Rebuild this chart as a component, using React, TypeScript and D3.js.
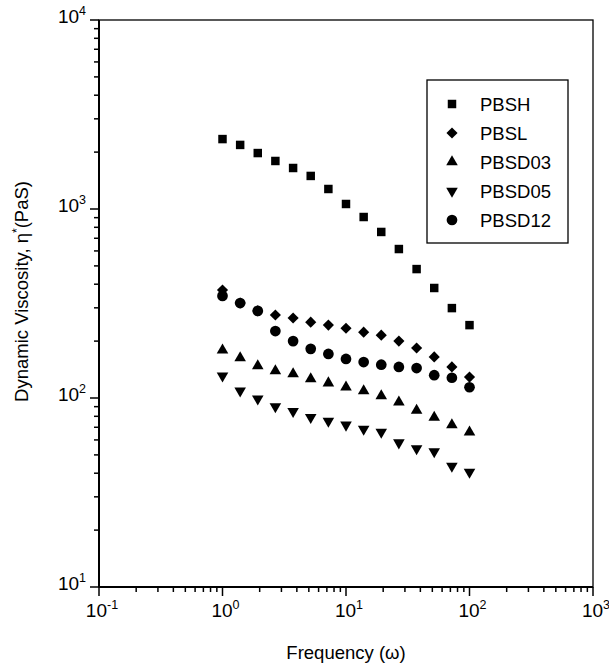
import React, { useRef, useEffect } from "react";
import * as d3 from "d3";

// frequency steps (7 per decade, 1 to 100)
const freq = [1, 1.39, 1.93, 2.68, 3.73, 5.18, 7.2, 10, 13.9, 19.3, 26.8, 37.3, 51.8, 72, 100];

// dynamic viscosity
const pbsh = [2344, 2183, 1977, 1795, 1648, 1496, 1276, 1063, 907, 756, 614, 481, 382, 299, 243];
const pbsl = [373, 318, 289, 275, 265, 252, 243, 234, 223, 215, 200, 184, 165, 146, 129];
const pbsd03 = [179, 163, 148, 139, 134, 126, 120, 114, 109, 102.5, 95, 86, 79, 72, 66];
const pbsd05 = [131, 109, 99, 90, 85, 79, 75.5, 72, 68.5, 66, 58, 54, 52, 43.6, 40.6];
const pbsd12 = [347, 318, 289, 226, 200, 182, 171, 161, 155, 150, 146, 144, 132, 128, 114];

const seriesNames = ["PBSH", "PBSL", "PBSD03", "PBSD05", "PBSD12"];
const xTickExp = [-1, 0, 1, 2, 3];
const yTickExp = [1, 2, 3, 4];

const App = () => {
    const ref = useRef(null);

    useEffect(() => {
        document.body.style.margin = "0";
        const width = 609;
        const height = 669;
        const margin = { top: 20, right: 16, bottom: 82, left: 99 };
        const font = "Arial, 'Liberation Sans', sans-serif";

        const svg = d3.select(ref.current)
            .attr("width", width)
            .attr("height", height);
        svg.selectAll("*").remove();

        const x = d3.scaleLog().domain([0.1, 1000]).range([margin.left, width - margin.right]);
        const y = d3.scaleLog().domain([10, 10000]).range([height - margin.bottom, margin.top]);

        const x0 = x.range()[0], x1 = x.range()[1];
        const y0 = y.range()[0], y1 = y.range()[1];

        // frame
        svg.append("rect")
            .attr("x", x0).attr("y", y1)
            .attr("width", x1 - x0).attr("height", y0 - y1)
            .attr("fill", "none").attr("stroke", "#000").attr("stroke-width", 1.3);
        // heavier left and bottom axes
        svg.append("line").attr("x1", x0).attr("x2", x0).attr("y1", y1).attr("y2", y0)
            .attr("stroke", "#000").attr("stroke-width", 2);
        svg.append("line").attr("x1", x0).attr("x2", x1).attr("y1", y0).attr("y2", y0)
            .attr("stroke", "#000").attr("stroke-width", 2);

        // ticks (outward)
        const minor = (lo, hi) => {
            const out = [];
            for (let e = lo; e < hi; e++) {
                for (let m = 2; m <= 9; m++) out.push(m * Math.pow(10, e));
            }
            return out;
        };
        const tg = svg.append("g").attr("stroke", "#000").attr("stroke-width", 1.5);
        xTickExp.forEach(e => {
            const v = Math.pow(10, e);
            tg.append("line").attr("x1", x(v)).attr("x2", x(v)).attr("y1", y0).attr("y2", y0 + 9);
        });
        minor(-1, 3).forEach(v => {
            tg.append("line").attr("x1", x(v)).attr("x2", x(v)).attr("y1", y0).attr("y2", y0 + 5);
        });
        yTickExp.forEach(e => {
            const v = Math.pow(10, e);
            tg.append("line").attr("x1", x0 - 9).attr("x2", x0).attr("y1", y(v)).attr("y2", y(v));
        });
        minor(1, 4).forEach(v => {
            tg.append("line").attr("x1", x0 - 5).attr("x2", x0).attr("y1", y(v)).attr("y2", y(v));
        });

        // tick labels
        xTickExp.forEach(e => {
            const t = svg.append("text")
                .attr("x", x(Math.pow(10, e)) + 3)
                .attr("y", y0 + 30)
                .attr("text-anchor", "middle")
                .style("font-family", font).style("font-size", "19px");
            t.append("tspan").text("10");
            t.append("tspan").attr("dy", -8).style("font-size", "12.5px").text(String(e));
        });
        yTickExp.forEach(e => {
            const t = svg.append("text")
                .attr("x", x0 - 13)
                .attr("y", y(Math.pow(10, e)) + 3)
                .attr("text-anchor", "end")
                .style("font-family", font).style("font-size", "19px");
            t.append("tspan").text("10");
            t.append("tspan").attr("dy", -8).style("font-size", "12.5px").text(String(e));
        });

        // axis titles
        svg.append("text")
            .attr("x", (x0 + x1) / 2)
            .attr("y", 659)
            .attr("text-anchor", "middle")
            .style("font-family", font).style("font-size", "18.5px")
            .text("Frequency (\u03c9)");

        const yt = svg.append("text")
            .attr("transform", `translate(28,${(y0 + y1) / 2 - 12}) rotate(-90)`)
            .attr("text-anchor", "middle")
            .style("font-family", font).style("font-size", "18.5px");
        yt.append("tspan").text("Dynamic Viscosity,  \u03b7");
        yt.append("tspan").attr("dy", -7).style("font-size", "12px").text("*");
        yt.append("tspan").attr("dy", 7).text("(PaS)");

        // markers
        const shapes = [
            { sym: d3.symbolSquare, size: 72, rot: 0 },
            { sym: d3.symbolSquare, size: 62, rot: 45 },
            { sym: d3.symbolTriangle, size: 58, rot: 0 },
            { sym: d3.symbolTriangle, size: 58, rot: 180 },
            { sym: d3.symbolCircle, size: 90, rot: 0 },
        ];
        const allSeries = [pbsh, pbsl, pbsd03, pbsd05, pbsd12];

        allSeries.forEach((vals, i) => {
            const s = shapes[i];
            const path = d3.symbol().type(s.sym).size(s.size)();
            svg.append("g").selectAll("path")
                .data(vals)
                .enter()
                .append("path")
                .attr("d", path)
                .attr("transform", (d, k) => `translate(${x(freq[k])},${y(d)}) rotate(${s.rot})`)
                .attr("fill", "#000");
        });

        // legend
        const lg = svg.append("g");
        lg.append("rect")
            .attr("x", 427).attr("y", 80).attr("width", 141).attr("height", 163)
            .attr("fill", "#fff").attr("stroke", "#000").attr("stroke-width", 1.3);
        seriesNames.forEach((name, i) => {
            const cy = 104 + i * 29;
            const s = shapes[i];
            lg.append("path")
                .attr("d", d3.symbol().type(s.sym).size(s.size)())
                .attr("transform", `translate(452,${cy}) rotate(${s.rot})`)
                .attr("fill", "#000");
            lg.append("text")
                .attr("x", 480).attr("y", cy + 6.5)
                .style("font-family", font).style("font-size", "18.5px")
                .text(name);
        });
    }, []);

    return (
        <div style={{ position: "relative" }}>
            <svg ref={ref}></svg>
        </div>
    );
};

export default App;
